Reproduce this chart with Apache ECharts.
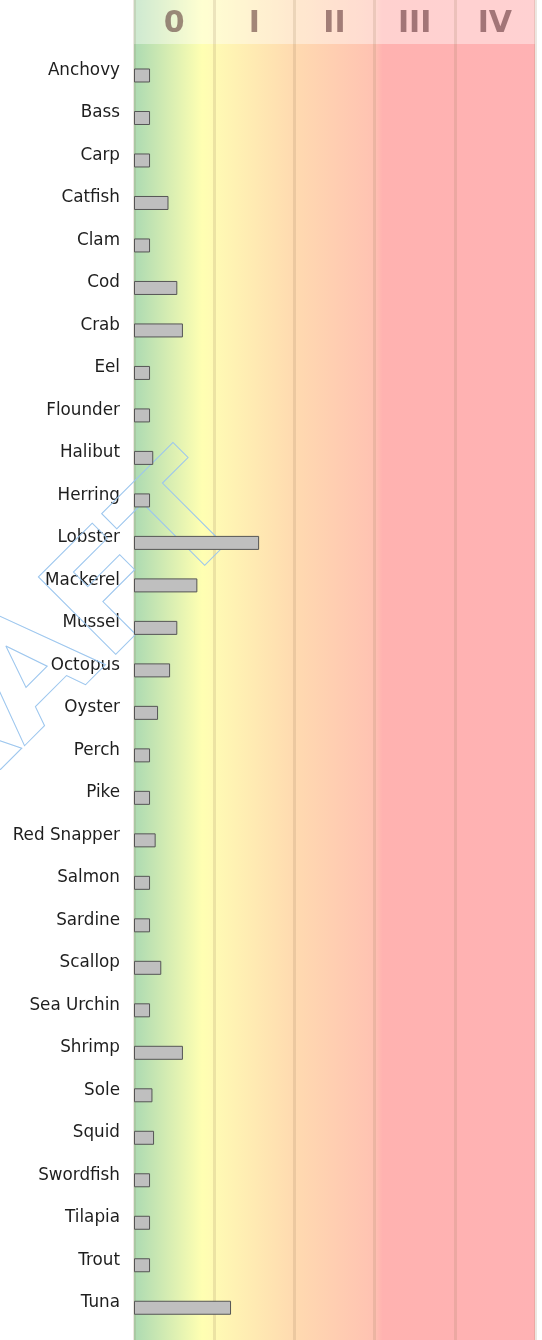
<!DOCTYPE html>
<html>
<head>
<meta charset="utf-8">
<style>
html,body{margin:0;padding:0;background:#fff;}
#chart{width:542px;height:1340px;}
</style>
<script src="https://cdn.jsdelivr.net/npm/echarts@6/dist/echarts.min.js"></script>
</head>
<body>
<div id="chart"></div>
<script>
var categories = ['Anchovy','Bass','Carp','Catfish','Clam','Cod','Crab','Eel','Flounder','Halibut','Herring','Lobster','Mackerel','Mussel','Octopus','Oyster','Perch','Pike','Red Snapper','Salmon','Sardine','Scallop','Sea Urchin','Shrimp','Sole','Squid','Swordfish','Tilapia','Trout','Tuna'];
var values = [0.2,0.2,0.2,0.43,0.2,0.54,0.61,0.2,0.2,0.24,0.2,1.56,0.79,0.54,0.45,0.3,0.2,0.2,0.27,0.2,0.2,0.34,0.2,0.61,0.23,0.25,0.2,0.2,0.2,1.21];
var bandLabels = ['0','I','II','III','IV'];
var xMin = 0, xMax = 5, xInterval = 1;

var chart = echarts.init(document.getElementById('chart'), null, {renderer:'canvas'});
var FONT = 'DejaVu Sans';
var bgGradient = new echarts.graphic.LinearGradient(0,0,1,0,[
  {offset:0, color:'#acdab2'},
  {offset:0.17, color:'#ffffb2'},
  {offset:0.2, color:'#fffab4'},
  {offset:0.4, color:'#ffdab0'},
  {offset:0.6, color:'#ffc2b2'},
  {offset:0.62, color:'#ffb2b0'},
  {offset:1, color:'#ffb2b4'}
]);

var option = {
  animation:false,
  grid:[
    {left:134, right:7, top:0, bottom:0, show:true, backgroundColor:bgGradient, borderWidth:0, z:0},
    {left:134, right:7, top:0, height:44, show:true, backgroundColor:'rgba(255,255,255,0.4)', borderWidth:0, z:0},
    {left:134, right:7, top:54.25, bottom:11, show:false}
  ],
  xAxis:[
    {gridIndex:0, type:'value', min:xMin, max:xMax, interval:xInterval,
     axisLine:{show:false}, axisTick:{show:false}, axisLabel:{show:false},
     splitLine:{show:true, lineStyle:{color:'rgba(150,120,90,0.18)', width:3}}},
    {gridIndex:1, type:'category', data:bandLabels, position:'top', boundaryGap:true,
     axisLine:{show:false}, axisTick:{show:false}, splitLine:{show:false},
     axisLabel:{inside:true, margin:24, verticalAlign:'middle', fontFamily:FONT, fontWeight:'bold', fontSize:30, color:'rgba(70,25,30,0.5)'}},
    {gridIndex:2, type:'value', min:xMin, max:xMax, interval:xInterval, show:false}
  ],
  yAxis:[
    {gridIndex:0, type:'value', min:0, max:1, show:false},
    {gridIndex:1, type:'value', min:0, max:1, show:false},
    {gridIndex:2, type:'category', data:categories, inverse:true,
     axisLine:{show:false}, axisTick:{show:false}, splitLine:{show:false},
     axisLabel:{margin:14, fontFamily:FONT, fontSize:16.8, color:'#1e1e1e', verticalAlign:'bottom', lineHeight:10}}
  ],
  series:[
    {type:'bar', xAxisIndex:2, yAxisIndex:2, data:values, barWidth:14,
     itemStyle:{color:'#bfbfbf', borderColor:'#555555', borderWidth:1}, z:5}
  ],
  graphic:[
    {type:'text', x:25, y:690, z:1, rotation:Math.PI/4, silent:true,
     style:{text:'DRAFT', font:'bold 150px "DejaVu Sans"', align:'center', verticalAlign:'middle', fill:'none', stroke:'#9cc6ee', lineWidth:1}}
  ]
};
chart.setOption(option);
</script>
</body>
</html>
